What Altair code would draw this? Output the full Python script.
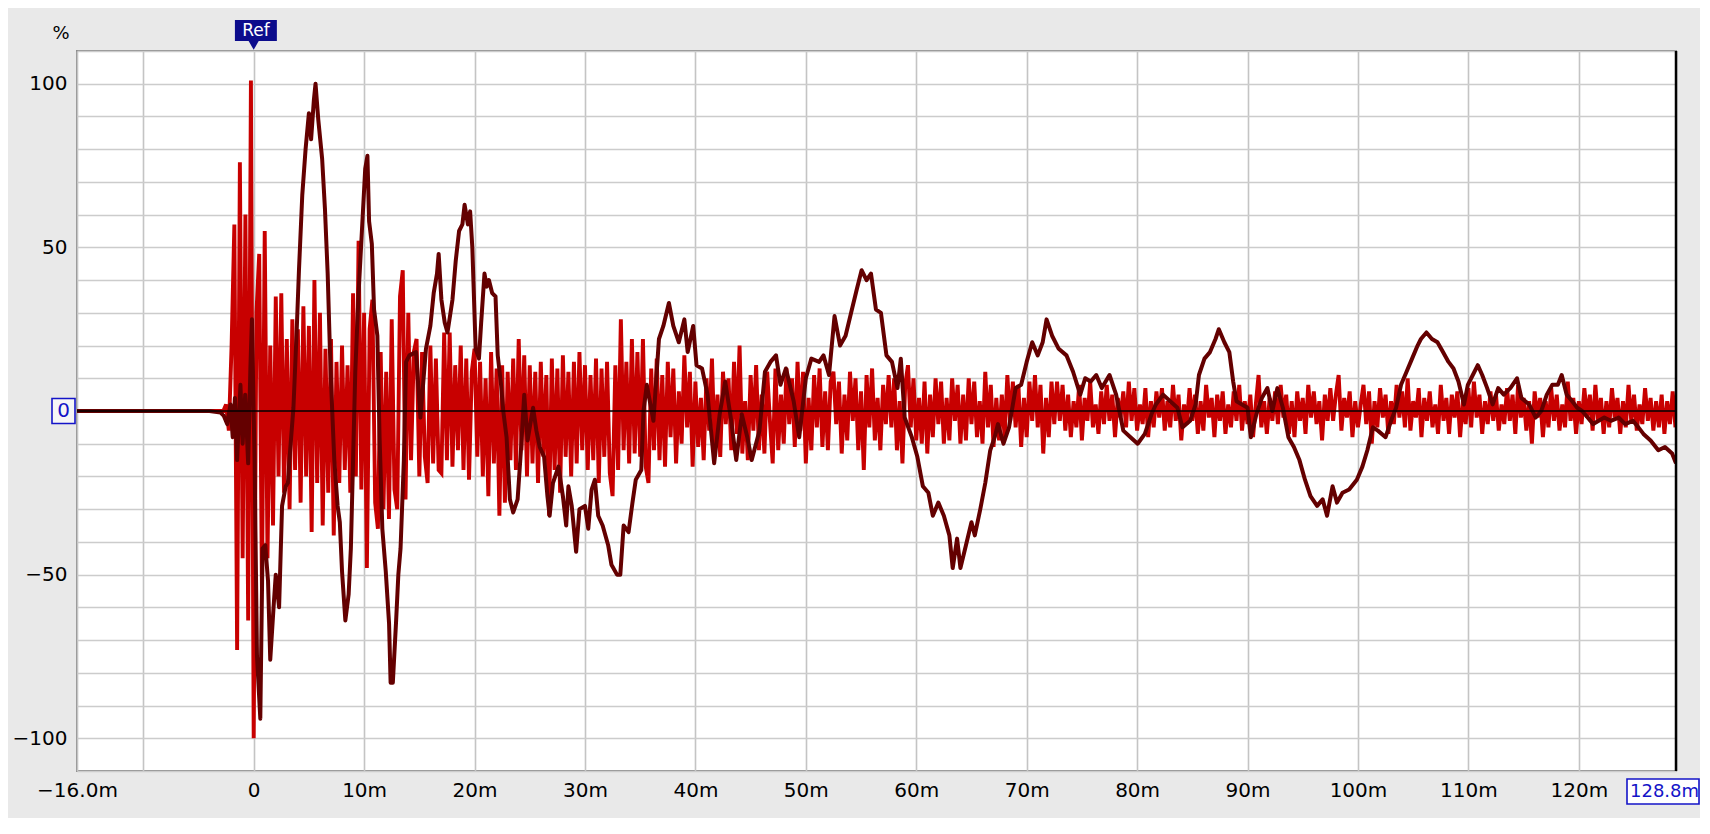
import altair as alt
import pandas as pd

# ---------------- data ----------------
# dark (smoothed) trace: time in ms, value in %
dark_t = [-16.0, -4.0, -3.0, -2.7, -2.4, -2.1, -1.9, -1.7, -1.5, -1.2, -1.0, -0.77, -0.5, -0.3, -0.16,
          0.08, 0.3, 0.6, 0.8, 1.05, 1.3, 1.5, 1.8, 2.0, 2.3, 2.57, 2.9, 3.1, 3.3, 3.6, 3.9,
          4.1, 4.4, 4.7, 5.0, 5.2, 5.45, 5.6, 5.85, 6.2, 6.45, 6.7, 6.9, 7.05, 7.3, 7.6, 7.8,
          8.0, 8.3, 8.6, 8.8, 9.0, 9.2, 9.5, 9.8, 10.1, 10.3, 10.45, 10.7, 10.9, 11.2, 11.4,
          11.65, 11.96, 12.26, 12.4, 12.6, 12.9, 13.1, 13.3, 13.6, 13.8, 14.1, 14.7, 15.1,
          15.6, 16.0, 16.3, 16.6, 16.75, 17.0, 17.3, 17.55, 18.0, 18.3, 18.6, 18.9, 19.1,
          19.4, 19.6, 19.8, 20.1, 20.4, 20.6, 20.9, 21.1, 21.3, 21.6, 21.9, 22.1, 22.4, 22.6,
          22.9, 23.2, 23.5, 23.9, 24.2, 24.5, 24.8, 25.3, 25.6, 25.9, 26.3, 26.6, 26.8, 27.1,
          27.6, 28.0, 28.3, 28.5, 28.8, 29.2, 29.5, 30.0, 30.3, 30.6, 30.9, 31.2, 31.6, 32.1,
          32.4, 32.9, 33.2, 33.5, 33.95, 34.3, 34.6, 35.1, 35.3, 35.6, 36.2, 36.7, 37.1, 37.6,
          38.0, 38.5, 39.0, 39.3, 39.8, 40.1, 40.6, 41.1, 41.7, 42.2, 42.7, 43.2, 43.7, 44.2,
          44.7, 45.1, 45.8, 46.3, 46.8, 47.3, 47.7, 48.2, 48.9, 49.4, 50.0, 50.5, 51.2, 51.6,
          52.1, 52.6, 53.1, 53.6, 54.1, 54.6, 55.05, 55.5, 55.9, 56.35, 56.8, 57.3, 57.8, 58.3,
          58.6, 58.95, 59.6, 60.1, 60.6, 61.1, 61.5, 62.0, 62.5, 63.0, 63.3, 63.7, 64.0, 64.5,
          65.0, 65.3, 65.8, 66.25, 66.7, 67.1, 67.4, 67.9, 68.4, 69.0, 69.5, 70.0, 70.5, 71.0,
          71.45, 71.8, 72.3, 72.9, 73.6, 74.2, 74.85, 75.3, 75.8, 76.3, 76.8, 77.5, 78.1, 78.75,
          79.4, 80.05, 80.7, 81.3, 81.7, 82.35, 83.0, 83.65, 84.1, 84.8, 85.3, 85.6, 86.1, 86.6,
          87.1, 87.4, 87.9, 88.35, 88.7, 89.0, 89.5, 90.0, 90.3, 90.8, 91.3, 91.8, 92.25, 92.7,
          93.2, 93.7, 94.2, 94.7, 95.2, 95.7, 96.3, 96.8, 97.2, 97.7, 98.1, 98.6, 99.2, 99.9,
          100.4, 100.85, 101.35, 101.8, 102.5, 103.0, 103.45, 103.9, 104.4, 104.9, 105.4, 105.7,
          106.2, 106.7, 107.2, 107.7, 108.2, 108.65, 109.1, 109.6, 109.95, 110.4, 110.85, 111.25,
          111.7, 112.2, 112.7, 113.2, 113.8, 114.4, 114.8, 115.5, 116.1, 116.6, 117.1, 117.6,
          118.1, 118.45, 118.9, 119.4, 119.85, 120.3, 120.8, 121.3, 121.8, 122.3, 122.9, 123.6,
          124.2, 124.9, 125.4, 125.85, 126.5, 127.2, 127.8, 128.45, 128.8]
dark_v = [0, 0, -0.5, -1.5, -4, 2, -8, 4, -15, 8, -10, 5, -16, 13, 28,
          -15, -75, -94, -42, -41, -52, -76, -60, -50, -60, -29, -23, -22, -12, 1, 25,
          43, 66, 80, 91, 83, 95, 100, 89, 77, 62, 42, 19, 5, -15, -29, -34,
          -49, -64, -56, -42, -15, 12, 36, 55, 74, 78, 58, 51, 31, 23, -8,
          -36, -49, -65, -83, -83, -64, -50, -42, -15, 15, 17, 18, -2,
          19, 26, 36, 42, 48, 34, 27, 24, 34, 46, 55, 57, 63,
          57, 61, 50, 19, 16, 27, 42, 38, 40, 36, 35, 17, 8, 0,
          -8, -27, -31, -27, -12, 5, -9, 1, -6, -11, -14, -26, -32, -22,
          -17, -26, -35, -23, -29, -43, -30, -29, -36, -24, -21, -32, -35, -41,
          -47, -50, -50, -35, -37, -28, -21, -18, 0, 8, -3, 22, 26, 33,
          26, 21, 28, 18, 26, 14, 13, 5, -16, -1, 9, -2, -15, -1,
          -8, -15, -6, 12, 15, 17, 8, 13, 3, -8, 10, 16, 15, 17,
          11, 29, 20, 23, 30, 37, 43, 40, 42, 31, 30, 17, 15, 7,
          16, -2, -8, -14, -23, -25, -32, -28, -32, -38, -48, -39, -48, -41,
          -34, -38, -30, -22, -12, -8, -4, -10, -5, 7, 8, 15, 21, 17,
          21, 28, 23, 19, 17, 12, 5, 10, 9, 11, 7, 11, 5, -6,
          -8, -10, -7, -1, 2, 5, 3, 1, -5, -3, 2, 11, 16, 18,
          22, 25, 21, 18, 9, 3, 2, 1, -8, -1, 4, 7, 0, 7,
          1, -8, -11, -15, -21, -26, -29, -27, -32, -23, -28, -25, -24, -21,
          -17, -12, -5, -6, -8, -3, 1, 8, 12, 16, 20, 22,
          24, 22, 21, 18, 15, 13, 9, 2, 8, 11, 14, 11,
          7, 2, 7, 5, 7, 10, 4, 2, -2, 0, 5, 8,
          8, 11, 5, 3, 1, 0, -2, -4, -3, -2, -3, -2,
          -4, -3, -5, -7, -9, -12, -11, -13, -16]

# raw (red) trace: samples every 0.25 ms starting at -2.5 ms (flat zero before)
red_t0 = -2.5
red_dt = 0.25
red_v = [
    2, -6, 20, 57, -73, 76, -45, 60, -64, 101, -100, 30, 48, -55, 55, -45, 20, -35, 35, -20,
    36, -25, 22, -30, 28, -18, 25, -28, 32, -20, 26, -37, 40, -22, 30, -35, 19, -25, 22, -38,
    15, -22, 20, -18, 14, -25, 36, -20, 52, -24, 30, -48, 25, 34, -28, -36, 18, -30, 12, -33,
    28, -24, -30, 35, 43, -27, 30, -15, 18, 22, -20, 18, -14, -22, 20, -16, 16, -18, -19, 24,
    -15, 24, -17, 14, -12, 20, -18, 16, -21, 12, 19, -14, 15, -20, 10, -26, 18, -16, 13, -32,
    14, -28, 12, -15, 16, -18, 22, -12, 17, -20, 14, -16, 12, -22, 15, -14, 11, -32, 16, -18,
    13, -25, 17, -14, 12, -20, 15, -16, 18, -12, 14, -18, 11, -15, 16, -22, 13, -14, 15, -19,
    -26, 14, -18, 28, -12, 15, -16, 22, -13, 18, -14, 22, -17, -22, 13, -12, 16, -15, 11, -17,
    15, -8, 13, -16, 6, -10, 17, -5, 12, -17, 9, -11, 4, -15, 10, -6, 16, -12, 5, -14,
    12, -4, 10, -12, 15, -7, 20, -13, 3, -15, 11, -6, 14, -12, 5, -13, 12, -3, -16, 13,
    -12, 5, -10, 13, -4, 10, -11, 15, -6, 12, -16, 4, -12, 11, -5, 13, -11, 6, -12, 9,
    12, -4, 9, -13, 5, -9, 12, -3, 10, -12, 6, -18, 11, -5, 13, -9, 4, -12, 8, -4,
    11, -5, 10, -12, 3, -16, 8, 14, -5, 10, -9, 4, -10, 9, -13, 5, -8, 10, -4, 9,
    -10, 4, -9, 10, -3, 8, -10, 5, -9, 10, -4, 9, -8, 3, -10, 12, -5, 8, -11, 4,
    -9, 5, -8, 11, -3, 9, -5, 8, -11, 4, -8, 9, -3, 11, -5, 8, -13, 4, -8, 9,
    -4, 9, -3, 8, -6, 5, -8, 3, -5, 8, -9, 4, -3, 9, -5, 2, -7, 6, -4, 8,
    -3, 5, -8, 4, -2, 6, -5, 9, -3, 7, -6, 2, -4, 7, -8, 3, -5, 6, -2, 7,
    -6, 3, -5, 8, -3, 5, -9, 2, -4, 7, -3, 5, -7, 3, -6, 8, -2, 4, -8, 5,
    -3, 6, -7, 2, -5, 6, -3, 8, -6, 3, -4, 5, -8, 2, 11, -5, 3, -7, 4, -3,
    6, -4, 8, -2, 5, -7, 3, -8, 6, -3, 4, -7, 8, -2, 6, -4, 3, -9, 5, -3,
    7, -3, 5, 11, -6, 4, -2, 6, -8, 3, -5, 2, 8, -4, 6, -10, 3, -5, 7, -2,
    5, -7, 3, -4, 8, -2, 6, -5, 10, -6, 3, -2, 7, -8, 4, -3, 6, -5, 2, -7,
    8, -3, 4, -7, 5, -2, 6, -8, 3, -4, 7, -5, 9, -2, 5, -7, 3, -4, 6, -3,
    5, -6, 2, -4, 7, -3, 5, -7, 8, -2, 4, -6, 3, -10, 6, -2, 4, -8, 3, -5,
    7, -3, 5, -6, 2, -5, 9, -3, 4, -7, 3, -4, 7, -2, 5, -6, 8, -3, 4, -7,
    3, -5, 7, -2, 4, -7, 3, -5, 8, -3, 5, -6, 2, -4, 7, -3, 4, -6, 3, -5,
    5, -7, 3, -4, 6, -5,
]

x_ticks = [-16, -10, 0, 10, 20, 30, 40, 50, 60, 70, 80, 90, 100, 110, 120, 128.8]
y_grid = [-110, -100, -90, -80, -70, -60, -50, -40, -30, -20, -10, 0,
          10, 20, 30, 40, 50, 60, 70, 80, 90, 100, 110]
x_min, x_max = -16.0, 128.8
y_min, y_max = -110, 110

# ---------------- build tables ----------------
red_times = [x_min, red_t0 - red_dt] + [red_t0 + i * red_dt for i in range(len(red_v))]
red_df = pd.DataFrame({"t": red_times, "v": [0, 0] + red_v})
dark_df = pd.DataFrame({"t": dark_t, "v": dark_v})

W, H = 1599, 720
FONT = "DejaVu Sans"
BLUE = "#1414C8"
NAVY = "#0C0C8C"

xscale = alt.Scale(domain=[x_min, x_max], nice=False, zero=False)
yscale = alt.Scale(domain=[y_min, y_max], nice=False, zero=False)

xaxis = alt.Axis(
    values=x_ticks, tickCount=60,
    labelExpr="datum.value == -16 ? '\u221216.0m' : (datum.value == -10 || datum.value > 125) ? '' : (datum.value == 0 ? '0' : datum.value + 'm')",
    grid=True, gridColor="#C4C4C4", gridWidth=1.6,
    ticks=False, domain=False, labelFont=FONT, labelFontSize=20, labelColor="#000000",
    labelPadding=9, labelFlush=False, labelOverlap=False, title=None,
)
yaxis = alt.Axis(
    values=y_grid, tickCount=60,
    labelExpr="(datum.value == 100 || datum.value == 50 || datum.value == -50 || datum.value == -100) ? datum.label : ''",
    grid=True, gridColor="#CCCCCC", gridWidth=1.6,
    ticks=False, domain=False, labelFont=FONT, labelFontSize=20, labelColor="#000000",
    labelPadding=10, labelOverlap=False, title=None,
)

red = alt.Chart(red_df).mark_line(color="#C80000", strokeWidth=3.9, clip=True).encode(
    x=alt.X("t:Q", scale=xscale, axis=xaxis),
    y=alt.Y("v:Q", scale=yscale, axis=yaxis),
)
dark = alt.Chart(dark_df).mark_line(color="#640000", strokeWidth=4.0, strokeJoin="round", clip=True).encode(
    x=alt.X("t:Q", scale=xscale),
    y=alt.Y("v:Q", scale=yscale),
)
zero_rule = alt.Chart(pd.DataFrame({"v": [0]})).mark_rule(color="#000000", strokeWidth=1.6).encode(
    y=alt.Y("v:Q", scale=yscale)
)
right_edge = alt.Chart(pd.DataFrame({"t": [x_max]})).mark_rule(color="#000000", strokeWidth=2.5).encode(
    x=alt.X("t:Q", scale=xscale)
)

one = pd.DataFrame({"a": [1]})
ref_box = alt.Chart(one).mark_rect(color=NAVY).encode(
    x=alt.datum(-1.7), x2=alt.datum(2.1), y=alt.value(-31), y2=alt.value(-10)
)
ref_tri = alt.Chart(one).mark_point(shape="triangle-down", filled=True, size=120, color=NAVY, opacity=1).encode(
    x=alt.datum(0), y=alt.value(-6)
)
ref_txt = alt.Chart(one).mark_text(text="Ref", color="white", font=FONT, fontSize=17,
                                   align="center", baseline="middle").encode(
    x=alt.datum(0.2), y=alt.value(-20)
)
pct_txt = alt.Chart(one).mark_text(text="%", color="#000000", font=FONT, fontSize=18,
                                   align="center", baseline="middle").encode(
    x=alt.value(-16), y=alt.value(-17)
)
zero_box = alt.Chart(one).mark_rect(fill="#F6F6F6", stroke=BLUE, strokeWidth=1.6).encode(
    x=alt.value(-25), x2=alt.value(-2), y=alt.datum(3.8), y2=alt.datum(-3.8)
)
zero_txt = alt.Chart(one).mark_text(text="0", color=BLUE, font=FONT, fontSize=20,
                                    align="center", baseline="middle").encode(
    x=alt.value(-13.5), y=alt.datum(0)
)
end_box = alt.Chart(one).mark_rect(fill="#FFFFFF", stroke=BLUE, strokeWidth=1.6).encode(
    x=alt.value(W - 49), x2=alt.value(W + 23), y=alt.value(H + 8), y2=alt.value(H + 33)
)
end_txt = alt.Chart(one).mark_text(text="128.8m", color=BLUE, font=FONT, fontSize=18,
                                   align="left", baseline="middle").encode(
    x=alt.value(W - 46), y=alt.value(H + 21)
)

chart = alt.layer(
    red, dark, zero_rule, right_edge,
    ref_box, ref_tri, ref_txt, pct_txt, zero_box, zero_txt, end_box, end_txt,
).properties(
    width=W, height=H,
    autosize=alt.AutoSizeParams(type="none"),
    padding={"left": 69, "top": 43, "right": 24, "bottom": 47},
    background="#E9E9E9",
).configure_view(
    fill="#FFFFFF", stroke="#8C8C8C", strokeWidth=2
)

chart.save("out.html", embed_options={"renderer": "svg", "actions": False})
